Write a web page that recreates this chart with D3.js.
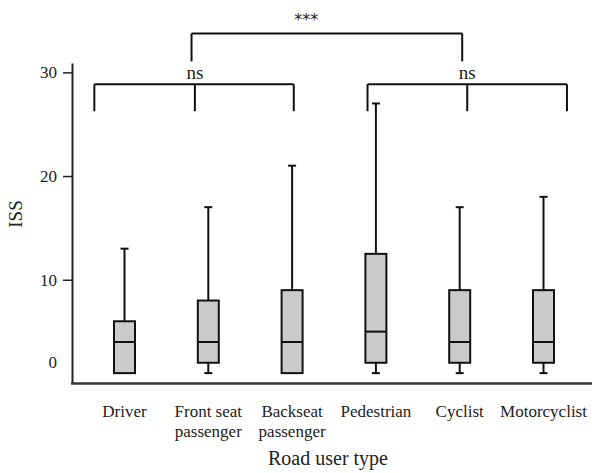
<html>
<head>
<style>
  body { margin: 0; background: #fff; }
  svg { position: absolute; top: 0; left: 0; }
  text { font-family: "Liberation Serif", "Times New Roman", serif; fill: #222; }
  .box { fill: #cbcbcb; stroke: #111; stroke-width: 2px; }
  .whisk { stroke: #111; stroke-width: 2px; }
  .brk { fill: none; stroke: #111; stroke-width: 2px; }
</style>
<script src="https://cdnjs.cloudflare.com/ajax/libs/d3/7.8.5/d3.min.js"></script>
</head>
<body>
<svg width="592" height="473"></svg>
<script>
// data
var categories = ["Driver", "Front seat passenger", "Backseat passenger", "Pedestrian", "Cyclist", "Motorcyclist"];
var labelLines = [["Driver"], ["Front seat", "passenger"], ["Backseat", "passenger"], ["Pedestrian"], ["Cyclist"], ["Motorcyclist"]];
var mins    = [1, 1, 1, 1, 1, 1];
var q1s     = [1, 2, 1, 2, 2, 2];
var medians = [4, 4, 4, 5, 4, 4];
var q3s     = [6, 8, 9, 12.5, 9, 9];
var maxs    = [13, 17, 21, 27, 17, 18];
// pedestrian whisker is drawn down into the box in the original
var whiskerEnds = [6, 8, 9, 9, 9, 9];
var yTicks = [10, 20, 30];

// significance brackets: positions in category-index units, heights in ISS units
var brackets = [
  {legs: [-0.36, 0.84, 2.02], top: 28.85, bottom: 26.25, label: "ns", labelAt: 0.84},
  {legs: [2.9, 4.09, 5.28], top: 28.85, bottom: 26.25, label: "ns", labelAt: 4.09},
  {legs: [0.8, 4.03], top: 33.75, bottom: 31.06, label: "***", labelAt: 2.17}
];

var svg = d3.select("svg");

var y = d3.scaleLinear().domain([0, 30.9]).range([383.5, 63]);
var x = d3.scalePoint().domain(categories).range([124.5, 543.5]);
var xi = d3.scaleLinear().domain([0, categories.length - 1]).range([124.5, 543.5]);
var boxW = 21, capW = 8;

var data = categories.map(function(c, i) {
  return {cat: c, lines: labelLines[i], min: mins[i], q1: q1s[i], med: medians[i], q3: q3s[i], max: maxs[i], wEnd: whiskerEnds[i]};
});

// y axis
var yAxis = svg.append("g").attr("transform", "translate(72,0)")
  .call(d3.axisLeft(y).tickValues(yTicks).tickSize(9).tickPadding(6).tickSizeOuter(0));
yAxis.attr("font-family", null);
yAxis.select(".domain").attr("stroke", "#222").attr("stroke-width", 2);
yAxis.selectAll(".tick line").attr("stroke", "#222").attr("stroke-width", 1.5);
yAxis.selectAll(".tick text").attr("font-size", 17).attr("fill", "#333");
// the "0" label sits a bit above the baseline, without a tick
yAxis.append("text").attr("x", -15).attr("y", y(2)).attr("dy", "0.32em")
  .attr("text-anchor", "end").attr("font-size", 17).attr("fill", "#333").text("0");

// x axis line
svg.append("line").attr("x1", 71).attr("x2", 592).attr("y1", y(0)).attr("y2", y(0))
  .attr("stroke", "#333").attr("stroke-width", 2.5);

// boxes
var g = svg.append("g").selectAll(".bp").data(data).join("g").attr("class", "bp")
  .attr("transform", function(d) { return "translate(" + x(d.cat) + ",0)"; });

g.append("line").attr("class", "whisk")
  .attr("x1", 0).attr("x2", 0).attr("y1", function(d) { return y(d.max); }).attr("y2", function(d) { return y(d.wEnd); });
g.append("line").attr("class", "whisk")
  .attr("x1", -capW / 2).attr("x2", capW / 2).attr("y1", function(d) { return y(d.max); }).attr("y2", function(d) { return y(d.max); });
g.filter(function(d) { return d.min < d.q1; }).each(function(d) {
  var s = d3.select(this);
  s.append("line").attr("class", "whisk").attr("x1", 0).attr("x2", 0).attr("y1", y(d.q1)).attr("y2", y(d.min));
  s.append("line").attr("class", "whisk").attr("x1", -capW / 2).attr("x2", capW / 2).attr("y1", y(d.min)).attr("y2", y(d.min));
});
g.append("rect").attr("class", "box")
  .attr("x", -boxW / 2).attr("width", boxW)
  .attr("y", function(d) { return y(d.q3); })
  .attr("height", function(d) { return y(d.q1) - y(d.q3); });
// pedestrian whisker shows through the box
g.filter(function(d) { return d.wEnd > d.q3; }).append("line").attr("class", "whisk")
  .attr("x1", 0).attr("x2", 0).attr("y1", function(d) { return y(d.q3); }).attr("y2", function(d) { return y(d.wEnd); });
g.append("line").attr("class", "whisk")
  .attr("x1", -boxW / 2).attr("x2", boxW / 2)
  .attr("y1", function(d) { return y(d.med); }).attr("y2", function(d) { return y(d.med); });

// category labels, one text per line
g.selectAll(".lab").data(function(d) { return d.lines; }).join("text").attr("class", "lab")
  .attr("text-anchor", "middle").attr("font-size", 17)
  .attr("x", 0).attr("y", function(d, i) { return 417 + i * 20; }).text(function(d) { return d; });

// axis titles
svg.append("text").attr("x", 328).attr("y", 465).attr("text-anchor", "middle").attr("font-size", 20).text("Road user type");
svg.append("text").attr("transform", "translate(22,214) rotate(-90)").attr("text-anchor", "middle").attr("font-size", 19).text("ISS");

// brackets
var bg = svg.append("g").selectAll(".brkg").data(brackets).join("g").attr("class", "brkg");
bg.append("line").attr("class", "brk")
  .attr("x1", function(d) { return xi(d.legs[0]); }).attr("x2", function(d) { return xi(d.legs[d.legs.length - 1]); })
  .attr("y1", function(d) { return y(d.top); }).attr("y2", function(d) { return y(d.top); });
bg.each(function(d) {
  var s = d3.select(this);
  d.legs.forEach(function(l) {
    s.append("line").attr("class", "brk").attr("x1", xi(l)).attr("x2", xi(l)).attr("y1", y(d.top)).attr("y2", y(d.bottom));
  });
});
bg.append("text").attr("text-anchor", "middle")
  .attr("x", function(d) { return xi(d.labelAt); })
  .attr("y", function(d) { return y(d.top) - 5; })
  .attr("font-size", function(d) { return d.label === "ns" ? 19 : 16; })
  .style("font-family", function(d) { return d.label === "ns" ? null : "DejaVu Sans"; })
  .attr("dy", function(d) { return d.label === "ns" ? 0 : -3; })
  .text(function(d) { return d.label; });
</script>
</body>
</html>
